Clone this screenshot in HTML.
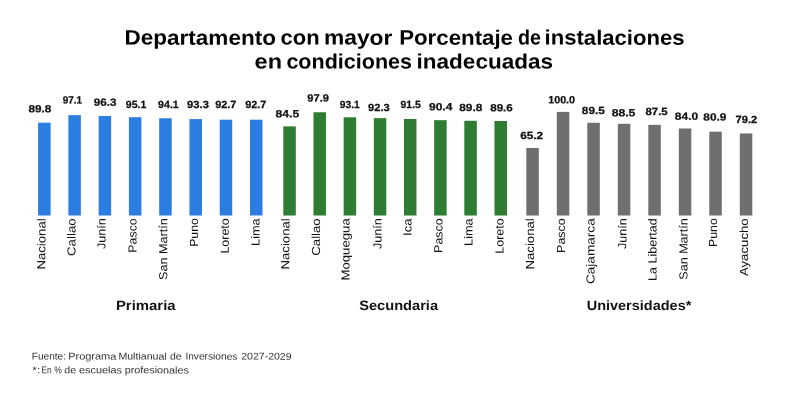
<!DOCTYPE html>
<html lang="es"><head><meta charset="utf-8"><title>Departamento con mayor Porcentaje de instalaciones en condiciones inadecuadas</title>
<style>
html,body{margin:0;padding:0;background:#fff;}
body{width:800px;height:410px;overflow:hidden;}
svg{display:block;font-family:"Liberation Sans",sans-serif;}
.t{font-weight:700;font-size:20.8px;fill:#000;}
.v{font-weight:700;font-size:10.4px;fill:#111;stroke:#111;stroke-width:0.25px;}
.a{font-size:11.7px;fill:#111;}
.g{font-weight:700;font-size:13.6px;fill:#111;}
.f{font-size:9.8px;fill:#333;}
</style></head><body>
<svg width="800" height="410" viewBox="0 0 800 410">
<rect width="800" height="410" fill="#fff"/>
<rect x="38.10" y="122.69" width="12.5" height="92.81" fill="#2b7de2"/>
<rect x="68.37" y="115.15" width="12.5" height="100.35" fill="#2b7de2"/>
<rect x="98.64" y="115.97" width="12.5" height="99.53" fill="#2b7de2"/>
<rect x="128.91" y="117.21" width="12.5" height="98.29" fill="#2b7de2"/>
<rect x="159.18" y="118.25" width="12.5" height="97.25" fill="#2b7de2"/>
<rect x="189.45" y="119.07" width="12.5" height="96.43" fill="#2b7de2"/>
<rect x="219.72" y="119.69" width="12.5" height="95.81" fill="#2b7de2"/>
<rect x="249.99" y="119.69" width="12.5" height="95.81" fill="#2b7de2"/>
<rect x="283.30" y="126.38" width="12.5" height="89.12" fill="#2e7d32"/>
<rect x="313.47" y="112.24" width="12.5" height="103.26" fill="#2e7d32"/>
<rect x="343.64" y="117.31" width="12.5" height="98.19" fill="#2e7d32"/>
<rect x="373.81" y="118.15" width="12.5" height="97.35" fill="#2e7d32"/>
<rect x="403.98" y="118.99" width="12.5" height="96.51" fill="#2e7d32"/>
<rect x="434.15" y="120.16" width="12.5" height="95.34" fill="#2e7d32"/>
<rect x="464.32" y="120.79" width="12.5" height="94.71" fill="#2e7d32"/>
<rect x="494.49" y="121.00" width="12.5" height="94.50" fill="#2e7d32"/>
<rect x="526.30" y="147.95" width="12.5" height="67.55" fill="#6f6f6f"/>
<rect x="556.80" y="111.90" width="12.5" height="103.60" fill="#6f6f6f"/>
<rect x="587.30" y="122.78" width="12.5" height="92.72" fill="#6f6f6f"/>
<rect x="617.80" y="123.81" width="12.5" height="91.69" fill="#6f6f6f"/>
<rect x="648.30" y="124.85" width="12.5" height="90.65" fill="#6f6f6f"/>
<rect x="678.80" y="128.48" width="12.5" height="87.02" fill="#6f6f6f"/>
<rect x="709.30" y="131.69" width="12.5" height="83.81" fill="#6f6f6f"/>
<rect x="739.80" y="133.45" width="12.5" height="82.05" fill="#6f6f6f"/>
<text class="t" transform="rotate(0.05 124.40 44.60)" x="124.40" y="44.60" textLength="151.60" lengthAdjust="spacingAndGlyphs">Departamento</text>
<text class="t" transform="rotate(0.05 280.60 44.60)" x="280.60" y="44.60" textLength="39.00" lengthAdjust="spacingAndGlyphs">con</text>
<text class="t" transform="rotate(0.05 324.00 44.60)" x="324.00" y="44.60" textLength="68.40" lengthAdjust="spacingAndGlyphs">mayor</text>
<text class="t" transform="rotate(0.05 399.20 44.60)" x="399.20" y="44.60" textLength="113.80" lengthAdjust="spacingAndGlyphs">Porcentaje</text>
<text class="t" transform="rotate(0.05 518.00 44.60)" x="518.00" y="44.60" textLength="23.00" lengthAdjust="spacingAndGlyphs">de</text>
<text class="t" transform="rotate(0.05 544.60 44.60)" x="544.60" y="44.60" textLength="140.00" lengthAdjust="spacingAndGlyphs">instalaciones</text>
<text class="t" transform="rotate(0.05 254.60 68.40)" x="254.60" y="68.40" textLength="27.40" lengthAdjust="spacingAndGlyphs">en</text>
<text class="t" transform="rotate(0.05 286.40 68.40)" x="286.40" y="68.40" textLength="125.60" lengthAdjust="spacingAndGlyphs">condiciones</text>
<text class="t" transform="rotate(0.05 416.60 68.40)" x="416.60" y="68.40" textLength="136.40" lengthAdjust="spacingAndGlyphs">inadecuadas</text>
<text class="v" transform="rotate(0.05 28.60 112.25)" x="28.60" y="112.25" textLength="22.80" lengthAdjust="spacingAndGlyphs">89.8</text>
<text class="v" transform="rotate(0.05 62.70 103.50)" x="62.70" y="103.50" textLength="19.30" lengthAdjust="spacingAndGlyphs">97.1</text>
<text class="v" transform="rotate(0.05 93.70 105.75)" x="93.70" y="105.75" textLength="22.70" lengthAdjust="spacingAndGlyphs">96.3</text>
<text class="v" transform="rotate(0.05 125.85 108.10)" x="125.85" y="108.10" textLength="20.55" lengthAdjust="spacingAndGlyphs">95.1</text>
<text class="v" transform="rotate(0.05 158.10 108.10)" x="158.10" y="108.10" textLength="20.70" lengthAdjust="spacingAndGlyphs">94.1</text>
<text class="v" transform="rotate(0.05 187.10 108.10)" x="187.10" y="108.10" textLength="21.80" lengthAdjust="spacingAndGlyphs">93.3</text>
<text class="v" transform="rotate(0.05 215.20 108.10)" x="215.20" y="108.10" textLength="21.20" lengthAdjust="spacingAndGlyphs">92.7</text>
<text class="v" transform="rotate(0.05 245.20 108.10)" x="245.20" y="108.10" textLength="21.10" lengthAdjust="spacingAndGlyphs">92.7</text>
<text class="v" transform="rotate(0.05 275.60 117.25)" x="275.60" y="117.25" textLength="23.55" lengthAdjust="spacingAndGlyphs">84.5</text>
<text class="v" transform="rotate(0.05 307.35 101.50)" x="307.35" y="101.50" textLength="21.55" lengthAdjust="spacingAndGlyphs">97.9</text>
<text class="v" transform="rotate(0.05 339.85 108.10)" x="339.85" y="108.10" textLength="19.95" lengthAdjust="spacingAndGlyphs">93.1</text>
<text class="v" transform="rotate(0.05 368.10 111.00)" x="368.10" y="111.00" textLength="21.70" lengthAdjust="spacingAndGlyphs">92.3</text>
<text class="v" transform="rotate(0.05 400.60 107.90)" x="400.60" y="107.90" textLength="20.20" lengthAdjust="spacingAndGlyphs">91.5</text>
<text class="v" transform="rotate(0.05 429.00 110.25)" x="429.00" y="110.25" textLength="23.30" lengthAdjust="spacingAndGlyphs">90.4</text>
<text class="v" transform="rotate(0.05 459.20 111.00)" x="459.20" y="111.00" textLength="23.10" lengthAdjust="spacingAndGlyphs">89.8</text>
<text class="v" transform="rotate(0.05 490.20 111.20)" x="490.20" y="111.20" textLength="22.60" lengthAdjust="spacingAndGlyphs">89.6</text>
<text class="v" transform="rotate(0.05 520.20 139.00)" x="520.20" y="139.00" textLength="23.00" lengthAdjust="spacingAndGlyphs">65.2</text>
<text class="v" transform="rotate(0.05 548.20 103.30)" x="548.20" y="103.30" textLength="26.90" lengthAdjust="spacingAndGlyphs">100.0</text>
<text class="v" transform="rotate(0.05 581.85 114.10)" x="581.85" y="114.10" textLength="22.95" lengthAdjust="spacingAndGlyphs">89.5</text>
<text class="v" transform="rotate(0.05 611.70 116.25)" x="611.70" y="116.25" textLength="23.70" lengthAdjust="spacingAndGlyphs">88.5</text>
<text class="v" transform="rotate(0.05 645.50 115.00)" x="645.50" y="115.00" textLength="22.15" lengthAdjust="spacingAndGlyphs">87.5</text>
<text class="v" transform="rotate(0.05 674.85 119.75)" x="674.85" y="119.75" textLength="23.30" lengthAdjust="spacingAndGlyphs">84.0</text>
<text class="v" transform="rotate(0.05 703.35 120.60)" x="703.35" y="120.60" textLength="23.05" lengthAdjust="spacingAndGlyphs">80.9</text>
<text class="v" transform="rotate(0.05 735.60 123.10)" x="735.60" y="123.10" textLength="21.70" lengthAdjust="spacingAndGlyphs">79.2</text>
<text class="a" transform="translate(45.40,218.30) rotate(-89.95)" text-anchor="end" x="0" y="0" textLength="51.30" lengthAdjust="spacingAndGlyphs">Nacional</text>
<text class="a" transform="translate(75.60,218.30) rotate(-89.95)" text-anchor="end" x="0" y="0" textLength="37.70" lengthAdjust="spacingAndGlyphs">Callao</text>
<text class="a" transform="translate(105.50,218.30) rotate(-89.95)" text-anchor="end" x="0" y="0" textLength="30.80" lengthAdjust="spacingAndGlyphs">Junín</text>
<text class="a" transform="translate(136.50,218.30) rotate(-89.95)" text-anchor="end" x="0" y="0" textLength="34.40" lengthAdjust="spacingAndGlyphs">Pasco</text>
<text class="a" transform="translate(167.30,218.30) rotate(-89.95)" text-anchor="end" x="0" y="0" textLength="61.70" lengthAdjust="spacingAndGlyphs">San Martín</text>
<text class="a" transform="translate(198.00,218.30) rotate(-89.95)" text-anchor="end" x="0" y="0" textLength="28.50" lengthAdjust="spacingAndGlyphs">Puno</text>
<text class="a" transform="translate(228.80,218.30) rotate(-89.95)" text-anchor="end" x="0" y="0" textLength="35.30" lengthAdjust="spacingAndGlyphs">Loreto</text>
<text class="a" transform="translate(259.60,218.30) rotate(-89.95)" text-anchor="end" x="0" y="0" textLength="27.60" lengthAdjust="spacingAndGlyphs">Lima</text>
<text class="a" transform="translate(289.40,218.30) rotate(-89.95)" text-anchor="end" x="0" y="0" textLength="51.20" lengthAdjust="spacingAndGlyphs">Nacional</text>
<text class="a" transform="translate(320.00,218.30) rotate(-89.95)" text-anchor="end" x="0" y="0" textLength="37.40" lengthAdjust="spacingAndGlyphs">Callao</text>
<text class="a" transform="translate(349.60,218.30) rotate(-89.95)" text-anchor="end" x="0" y="0" textLength="62.20" lengthAdjust="spacingAndGlyphs">Moquegua</text>
<text class="a" transform="translate(381.60,218.30) rotate(-89.95)" text-anchor="end" x="0" y="0" textLength="30.80" lengthAdjust="spacingAndGlyphs">Junín</text>
<text class="a" transform="translate(411.60,218.30) rotate(-89.95)" text-anchor="end" x="0" y="0" textLength="17.60" lengthAdjust="spacingAndGlyphs">Ica</text>
<text class="a" transform="translate(442.40,218.30) rotate(-89.95)" text-anchor="end" x="0" y="0" textLength="34.60" lengthAdjust="spacingAndGlyphs">Pasco</text>
<text class="a" transform="translate(472.60,218.30) rotate(-89.95)" text-anchor="end" x="0" y="0" textLength="27.60" lengthAdjust="spacingAndGlyphs">Lima</text>
<text class="a" transform="translate(503.60,218.30) rotate(-89.95)" text-anchor="end" x="0" y="0" textLength="35.40" lengthAdjust="spacingAndGlyphs">Loreto</text>
<text class="a" transform="translate(534.00,218.30) rotate(-89.95)" text-anchor="end" x="0" y="0" textLength="51.20" lengthAdjust="spacingAndGlyphs">Nacional</text>
<text class="a" transform="translate(565.00,218.30) rotate(-89.95)" text-anchor="end" x="0" y="0" textLength="34.60" lengthAdjust="spacingAndGlyphs">Pasco</text>
<text class="a" transform="translate(594.60,218.30) rotate(-89.95)" text-anchor="end" x="0" y="0" textLength="65.80" lengthAdjust="spacingAndGlyphs">Cajamarca</text>
<text class="a" transform="translate(626.40,218.30) rotate(-89.95)" text-anchor="end" x="0" y="0" textLength="30.60" lengthAdjust="spacingAndGlyphs">Junín</text>
<text class="a" transform="translate(656.60,218.30) rotate(-89.95)" text-anchor="end" x="0" y="0" textLength="62.60" lengthAdjust="spacingAndGlyphs">La Libertad</text>
<text class="a" transform="translate(687.60,218.30) rotate(-89.95)" text-anchor="end" x="0" y="0" textLength="61.40" lengthAdjust="spacingAndGlyphs">San Martín</text>
<text class="a" transform="translate(717.00,218.30) rotate(-89.95)" text-anchor="end" x="0" y="0" textLength="28.60" lengthAdjust="spacingAndGlyphs">Puno</text>
<text class="a" transform="translate(748.00,218.30) rotate(-89.95)" text-anchor="end" x="0" y="0" textLength="57.80" lengthAdjust="spacingAndGlyphs">Ayacucho</text>
<text class="g" transform="rotate(0.05 115.95 310.00)" x="115.95" y="310.00" textLength="59.65" lengthAdjust="spacingAndGlyphs">Primaria</text>
<text class="g" transform="rotate(0.05 359.20 310.00)" x="359.20" y="310.00" textLength="78.90" lengthAdjust="spacingAndGlyphs">Secundaria</text>
<text class="g" transform="rotate(0.05 586.70 310.00)" x="586.70" y="310.00" textLength="104.65" lengthAdjust="spacingAndGlyphs">Universidades*</text>
<text class="f" transform="rotate(0.05 31.75 359.60)" x="31.75" y="359.60" textLength="34.25" lengthAdjust="spacingAndGlyphs">Fuente:</text>
<text class="f" transform="rotate(0.05 68.15 359.60)" x="68.15" y="359.60" textLength="48.25" lengthAdjust="spacingAndGlyphs">Programa</text>
<text class="f" transform="rotate(0.05 118.40 359.60)" x="118.40" y="359.60" textLength="48.30" lengthAdjust="spacingAndGlyphs">Multianual</text>
<text class="f" transform="rotate(0.05 170.00 359.60)" x="170.00" y="359.60" textLength="11.70" lengthAdjust="spacingAndGlyphs">de</text>
<text class="f" transform="rotate(0.05 185.40 359.60)" x="185.40" y="359.60" textLength="52.00" lengthAdjust="spacingAndGlyphs">Inversiones</text>
<text class="f" transform="rotate(0.05 241.20 359.60)" x="241.20" y="359.60" textLength="50.40" lengthAdjust="spacingAndGlyphs">2027-2029</text>
<text class="f" transform="rotate(0.05 32.30 373.35)" x="32.30" y="373.35" textLength="8.00" lengthAdjust="spacingAndGlyphs">*:</text>
<text class="f" transform="rotate(0.05 41.40 373.35)" x="41.40" y="373.35" textLength="10.25" lengthAdjust="spacingAndGlyphs">En</text>
<text class="f" transform="rotate(0.05 54.15 373.35)" x="54.15" y="373.35" textLength="7.65" lengthAdjust="spacingAndGlyphs">%</text>
<text class="f" transform="rotate(0.05 64.30 373.35)" x="64.30" y="373.35" textLength="11.85" lengthAdjust="spacingAndGlyphs">de</text>
<text class="f" transform="rotate(0.05 79.00 373.35)" x="79.00" y="373.35" textLength="43.00" lengthAdjust="spacingAndGlyphs">escuelas</text>
<text class="f" transform="rotate(0.05 124.70 373.35)" x="124.70" y="373.35" textLength="64.20" lengthAdjust="spacingAndGlyphs">profesionales</text>
</svg>
</body></html>
